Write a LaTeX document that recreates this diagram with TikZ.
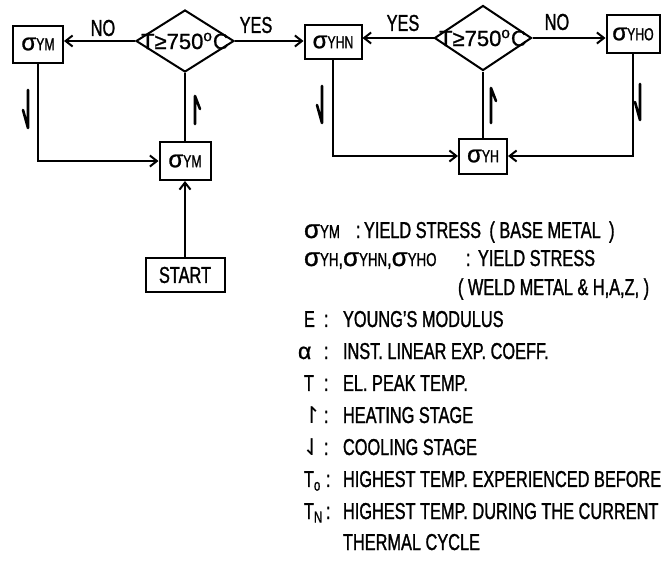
\documentclass[tikz,border=0pt]{standalone}
\usepackage{fontspec}
\setmainfont{Liberation Sans}[FakeStretch=0.71, FakeBold=1.2]
\newfontfamily\widefont{Liberation Sans}[FakeBold=1]
\newfontfamily\symfont{DejaVu Sans}
\usetikzlibrary{arrows.meta,shapes.geometric}

\newcommand{\sgm}[2][12]{{\widefont\fontsize{#1}{#1}\selectfont σ}{\fontsize{0.72\dimexpr#1pt}{#1}\selectfont #2}}

\begin{document}
\begin{tikzpicture}[
    x=0.5pt,
    y=-0.5pt,
    >={Straight Barb[length=3.5pt,width=5.5pt]},
    line width=1pt,
    box/.style={draw, inner sep=1pt, font=\fontsize{11.5}{12}\selectfont},
    test/.style={draw, diamond, inner sep=0pt},
    flow/.style={->},
    stage/.style={line width=1.3pt, line cap=round, line join=round},
    tag/.style={inner sep=0pt, font=\fontsize{11.5}{12}\selectfont},
    txt/.style={anchor=base west, inner sep=0pt, font=\fontsize{11.5}{12}\selectfont}
]
\useasboundingbox (0,0) rectangle (666,562);

% Main boxes
\node[box, minimum width=25pt, minimum height=18.5pt] (yml) at (38,44) {\sgm{YM}};
\node[box, minimum width=25.5pt, minimum height=19pt] (ymb) at (185,161) {\sgm{YM}};
\node[box, minimum width=39.5pt, minimum height=17pt] (st) at (185,275) {START};
\node[box, minimum width=28.5pt, minimum height=17pt] (yhn) at (333,42) {\sgm{YHN}};
\node[box, minimum width=26.5pt, minimum height=19pt] (yho) at (633,34) {\sgm{YHO}};
\node[box, minimum width=24pt, minimum height=17.5pt] (yh) at (483,156) {\sgm{YH}};

% Tests
\node[test, minimum width=49pt, minimum height=31pt,
    label={[font=\widefont\fontsize{11}{12}\selectfont]center:T≥750\textsuperscript{o}C}] (tl) at (185,41) {};
\node[test, minimum width=48.5pt, minimum height=32.5pt,
    label={[font=\widefont\fontsize{11}{12}\selectfont]center:T≥750\textsuperscript{o}C}] (tr) at (483,38) {};

% Arrows
\draw[flow] (tl.west) -- (tl.west -| yml.east);
\draw[flow] (tl.east) -- (tl.east -| yhn.west);
\draw[flow] (tr.west) -- (tr.west -| yhn.east);
\draw[flow] (tr.east) -- (tr.east -| yho.west);
\draw[flow] (yml.south) |- (ymb.west);
\draw (ymb.north) -- (tl.south);
\draw[flow] (st.north) -- (ymb.south);
\draw[flow] (yhn.south) |- (yh.west);
\draw[flow] (yho.south) |- (yh.east);
\draw (yh.north) -- (tr.south);

\node[tag] (nol) at (103,28) {NO};
\node[tag] (yesl) at (256,25) {YES};
\node[tag] (yesr) at (403,23) {YES};
\node[tag] (nor) at (557,22) {NO};

% Heating and cooling marks
\draw[stage] (28,90) -- (28,128) -- ++(-5,-18);
\draw[stage] (195,124) -- (195,96) -- ++(5,13);
\draw[stage] (322,86) -- (322,123) -- ++(-5,-18);
\draw[stage] (491,123) -- (491,88) -- ++(5,13);
\draw[stage] (640,84) -- (640,120) -- ++(-5,-18);

% Legend
\node[txt] (k1s) at (303,238) {\sgm[13]{YM}};
\node[txt] (k1c) at (355,238) {:};
\node[txt] (k1t) at (363,238) {YIELD STRESS \,( BASE METAL \,)};

\node[txt] (k2s) at (303,266) {\sgm[13]{YH},\sgm[13]{YHN},\sgm[13]{YHO}};
\node[txt] (k2c) at (465,266) {:};
\node[txt] (k2t) at (477,266) {YIELD STRESS};
\node[txt] (k2u) at (457,295) {( WELD METAL \& H,A,Z, )};

\node[txt] (k3s) at (303,327) {E};
\node[txt] (k3c) at (323,327) {:};
\node[txt] (k3t) at (342,327) {YOUNG'S MODULUS};

\node[txt] (k4s) at (297,359) {{\widefont α}};
\node[txt] (k4c) at (323,359) {:};
\node[txt] (k4t) at (342,359) {INST. LINEAR EXP. COEFF.};

\node[txt] (k5s) at (303,391) {T};
\node[txt] (k5c) at (323,391) {:};
\node[txt] (k5t) at (342,391) {EL. PEAK TEMP.};

\node[txt] (k6s) at (301,423) {{\symfont ↾}};
\node[txt] (k6c) at (323,423) {:};
\node[txt] (k6t) at (342,423) {HEATING STAGE};

\node[txt] (k7s) at (301,455) {{\symfont ⇃}};
\node[txt] (k7c) at (323,455) {:};
\node[txt] (k7t) at (342,455) {COOLING STAGE};

\node[txt] (k8s) at (303,487) {T\textsubscript{o}};
\node[txt] (k8c) at (325,487) {:};
\node[txt] (k8t) at (342,487) {HIGHEST TEMP. EXPERIENCED BEFORE};

\node[txt] (k9s) at (303,519) {T\textsubscript{N}};
\node[txt] (k9c) at (325,519) {:};
\node[txt] (k9t) at (342,519) {HIGHEST TEMP. DURING THE CURRENT};
\node[txt] (k9u) at (342,550) {THERMAL CYCLE};
\end{tikzpicture}
\end{document}
